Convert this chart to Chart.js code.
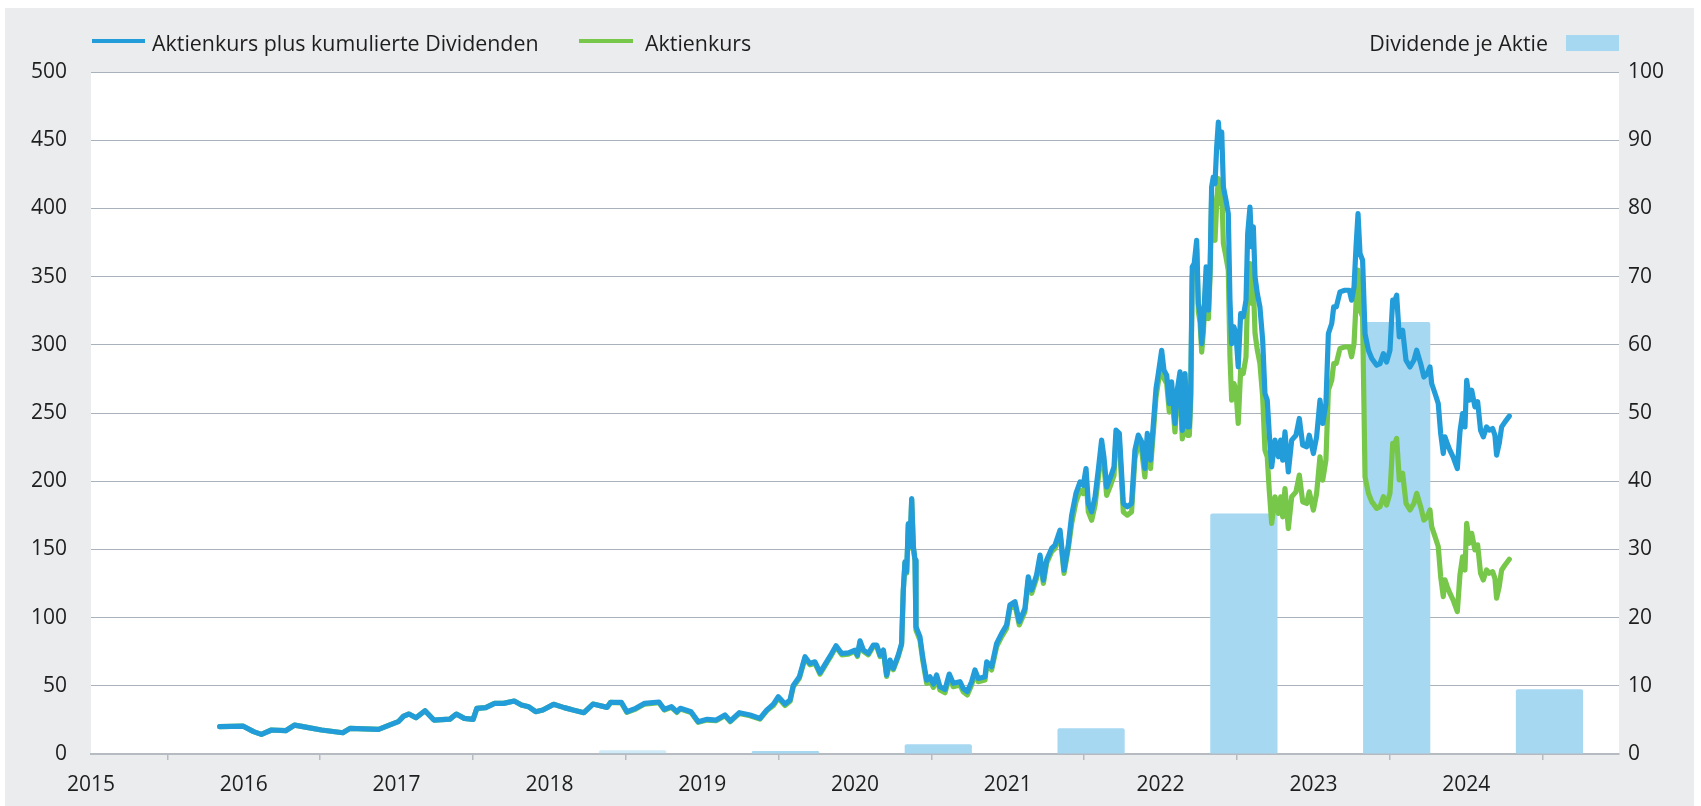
<!DOCTYPE html>
<html lang="de">
<head>
<meta charset="utf-8">
<title>Aktienkurs und Dividenden</title>
<script src="https://cdn.jsdelivr.net/npm/chart.js@4.4.1/dist/chart.umd.min.js"></script>
<style>
  html, body { margin: 0; padding: 0; background: #ffffff; width: 1701px; height: 806px; overflow: hidden; }
  #frame { position: absolute; left: 5px; top: 8px; width: 1689px; height: 798px; background: #ebecee; }
  #wrap { position: absolute; left: 0; top: 0; width: 1701px; height: 806px; }
  canvas { display: block; }
  .lg { position: absolute; font-family: "Open Sans", sans-serif; font-size: 21.4px; color: #1e1e1e; white-space: nowrap; line-height: 24px; }
  .sw { position: absolute; }
</style>
</head>
<body>
<div id="frame"></div>
<div id="wrap"><canvas id="c" width="1701" height="806"></canvas></div>
<div class="sw" style="left:92px; top:39px; width:53px; height:4px; background:#239dd9;"></div>
<div class="lg" style="left:152px; top:31px;">Aktienkurs plus kumulierte Dividenden</div>
<div class="sw" style="left:579px; top:39px; width:54px; height:4px; background:#77c74a;"></div>
<div class="lg" style="left:645px; top:31px;">Aktienkurs</div>
<div class="lg" style="right:153px; top:31px; text-align:right;">Dividende je Aktie</div>
<div class="sw" style="left:1566px; top:35px; width:53px; height:16px; background:#a6d8f2;"></div>
<script>
// ---- Data ----
const dates = [
  2015.842, 2015.920, 2015.994, 2016.064, 2016.115, 2016.181, 2016.274, 2016.333, 2016.414, 2016.508,
  2016.648, 2016.695, 2016.882, 2016.952, 2017.011, 2017.046, 2017.081, 2017.127, 2017.186, 2017.244,
  2017.349, 2017.391, 2017.443, 2017.501, 2017.525, 2017.583, 2017.641, 2017.700, 2017.770, 2017.817,
  2017.863, 2017.910, 2017.957, 2018.027, 2018.097, 2018.155, 2018.226, 2018.285, 2018.378, 2018.401,
  2018.471, 2018.507, 2018.565, 2018.623, 2018.717, 2018.752, 2018.799, 2018.834, 2018.857, 2018.927,
  2018.974, 2019.032, 2019.091, 2019.149, 2019.184, 2019.243, 2019.313, 2019.378, 2019.422,
  2019.466, 2019.498, 2019.542, 2019.575, 2019.596, 2019.636, 2019.673, 2019.705, 2019.738, 2019.771,
  2019.814, 2019.847, 2019.876, 2019.913, 2019.957, 2020.000, 2020.016, 2020.033, 2020.055, 2020.087,
  2020.120, 2020.142, 2020.164, 2020.186, 2020.207, 2020.229, 2020.251, 2020.283, 2020.305, 2020.316,
  2020.327, 2020.338, 2020.349, 2020.360, 2020.371, 2020.382, 2020.393,
  2020.399, 2020.425, 2020.443, 2020.469, 2020.491, 2020.513, 2020.534, 2020.556, 2020.589, 2020.617,
  2020.643, 2020.687, 2020.708, 2020.735, 2020.763, 2020.785, 2020.807, 2020.851, 2020.862, 2020.894,
  2020.927, 2020.960, 2020.992, 2021.014, 2021.047, 2021.075, 2021.112, 2021.134, 2021.156, 2021.188,
  2021.211, 2021.233, 2021.254, 2021.287, 2021.309, 2021.342, 2021.368, 2021.396,
  2021.418, 2021.446, 2021.473, 2021.494, 2021.512, 2021.527, 2021.549, 2021.571, 2021.592, 2021.614,
  2021.629, 2021.647, 2021.673, 2021.695, 2021.708, 2021.730, 2021.756, 2021.782, 2021.810, 2021.832,
  2021.854, 2021.876, 2021.897, 2021.913, 2021.934, 2021.952, 2021.970, 2021.985, 2022.007, 2022.022,
  2022.040, 2022.057, 2022.072, 2022.094, 2022.109, 2022.127, 2022.142, 2022.160, 2022.175, 2022.188,
  2022.197, 2022.207, 2022.220, 2022.236, 2022.247, 2022.258, 2022.269, 2022.280, 2022.298, 2022.313,
  2022.324, 2022.334,
  2022.345, 2022.356, 2022.367, 2022.378, 2022.389, 2022.400, 2022.411, 2022.428, 2022.443, 2022.454,
  2022.465, 2022.480, 2022.493, 2022.508, 2022.524, 2022.541, 2022.559, 2022.570, 2022.585, 2022.596,
  2022.607, 2022.618, 2022.633, 2022.650, 2022.668, 2022.683, 2022.698, 2022.711, 2022.727, 2022.749,
  2022.771, 2022.786, 2022.799, 2022.814, 2022.836, 2022.858, 2022.886, 2022.908, 2022.930, 2022.956,
  2022.973, 2023.000, 2023.021, 2023.043, 2023.061, 2023.082, 2023.098, 2023.120, 2023.133, 2023.150,
  2023.174, 2023.206, 2023.235, 2023.250, 2023.266, 2023.279, 2023.292, 2023.305, 2023.322,
  2023.338, 2023.360, 2023.382, 2023.414, 2023.436, 2023.458, 2023.479, 2023.501, 2023.519, 2023.534,
  2023.545, 2023.562, 2023.584, 2023.606, 2023.632, 2023.658, 2023.676, 2023.702, 2023.723, 2023.745,
  2023.763, 2023.774, 2023.796, 2023.817, 2023.833, 2023.850, 2023.861, 2023.876, 2023.893, 2023.914,
  2023.942, 2023.959, 2023.976, 2023.992, 2024.003, 2024.021, 2024.036, 2024.057, 2024.075, 2024.094,
  2024.112, 2024.133, 2024.151, 2024.173, 2024.188, 2024.199, 2024.216, 2024.232, 2024.254, 2024.282
];

const kursPlusDividenden = [
  20.0, 20.3, 20.5, 16.4, 14.4, 17.6, 17.1, 21.2, 19.5, 17.6,
  15.6, 18.8, 18.1, 21.2, 23.7, 27.8, 29.3, 26.6, 31.7, 24.9,
  25.6, 29.3, 26.1, 25.4, 33.5, 34.0, 37.1, 37.1, 38.8, 35.9,
  34.7, 31.0, 32.2, 36.4, 34.0, 32.2, 30.3, 36.6, 34.2, 37.9,
  37.9, 31.0, 33.5, 37.1, 38.1, 32.7, 34.7, 31.0, 33.5, 31.0,
  23.7, 25.4, 24.9, 28.6, 24.2, 30.3, 28.6, 26.1, 32.2,
  36.6, 42.0, 36.6, 39.6, 50.3, 56.6, 71.3, 66.4, 67.6, 59.6,
  67.6, 73.7, 79.4, 73.7, 74.2, 76.2, 72.5, 83.0, 76.2, 73.7,
  79.9, 79.9, 72.5, 76.2, 57.9, 68.9, 62.8, 72.5, 81.1, 120.2,
  140.9, 133.6, 169.0, 152.0, 187.3, 152.0, 142.2,
  93.3, 86.0, 71.3, 54.2, 56.6, 51.3, 57.9, 49.3, 47.3, 58.6,
  51.8, 53.0, 48.1, 45.7, 53.0, 61.6, 55.4, 56.6, 67.6, 64.0,
  81.1, 88.4, 94.5, 109.2, 111.6, 97.0, 106.7, 129.9, 120.2, 131.1,
  145.8, 127.5, 142.2, 150.7, 153.2, 164.1, 134.8, 153.2,
  175.1, 191.0, 199.5, 197.1, 209.3, 183.7, 177.6, 188.6, 208.1, 230.1,
  217.9, 195.8, 203.2, 210.5, 237.4, 235.0, 183.7, 181.3, 183.7, 222.8,
  233.8, 228.9, 209.3, 235.0, 215.5, 241.1, 267.9, 278.9, 296.0, 281.4,
  277.7, 256.9, 272.8, 242.3, 266.7, 280.1, 237.3, 278.9, 239.8, 239.8,
  264.3, 357.1, 359.5, 376.6, 330.3, 322.9, 300.9, 315.6, 357.1, 325.4,
  357.1, 415.7,
  423.0, 418.1, 445.0, 463.3, 445.0, 456.0, 415.7, 405.9, 396.2, 332.7,
  300.9, 313.1, 308.2, 283.8, 322.9, 320.5, 332.7, 381.5, 401.0, 371.8,
  386.4, 349.8, 337.6, 327.8, 303.4, 264.3, 259.4, 234.9, 210.5, 230.1,
  217.9, 230.1, 215.4, 236.1, 206.8, 230.1, 233.7, 246.0, 226.4, 225.2,
  233.7, 220.3, 232.5, 259.4, 242.3, 256.9, 308.2, 315.6, 327.8, 327.8,
  338.8, 340.0, 340.0, 332.7, 342.5, 371.8, 396.2, 366.9, 362.0,
  308.0, 296.0, 289.9, 285.0, 286.2, 293.5, 287.4, 296.0, 332.7, 332.7,
  336.3, 305.8, 310.7, 288.7, 283.8, 288.7, 296.0, 286.2, 276.4, 278.9,
  283.8, 271.6, 264.3, 257.0, 235.0, 220.3, 232.5, 227.6, 222.8, 217.9,
  209.3, 236.1, 249.5, 239.8, 274.0, 259.4, 266.7, 254.5, 258.2, 237.4,
  232.5, 239.8, 237.4, 238.6, 233.7, 219.1, 227.6, 239.8, 243.5, 247.7
];

const aktienkurs = [
  20.0, 20.3, 20.5, 16.4, 14.4, 17.6, 17.1, 21.2, 19.5, 17.6,
  15.6, 18.8, 18.1, 21.2, 23.7, 27.8, 29.3, 26.6, 31.7, 24.9,
  25.6, 29.3, 26.1, 25.4, 33.5, 34.0, 37.1, 37.1, 38.8, 35.9,
  34.7, 31.0, 32.2, 36.4, 34.0, 32.2, 30.3, 36.6, 34.2, 37.9,
  37.4, 30.5, 33.0, 36.6, 37.6, 32.2, 34.2, 30.5, 33.0, 30.5,
  23.2, 24.9, 24.4, 28.1, 23.7, 29.8, 28.1, 25.6, 31.7,
  35.6, 41.0, 35.6, 38.6, 49.3, 55.6, 70.3, 65.4, 66.6, 58.6,
  66.6, 72.7, 78.4, 72.7, 73.2, 75.2, 71.5, 82.0, 75.2, 72.7,
  78.9, 78.9, 71.5, 75.2, 56.9, 67.9, 61.8, 71.5, 80.1, 119.2,
  139.9, 132.6, 168.0, 151.0, 186.3, 151.0, 141.2,
  90.9, 83.6, 68.9, 51.8, 54.2, 48.9, 55.5, 46.9, 44.9, 56.2,
  49.4, 50.6, 45.7, 43.3, 50.6, 59.2, 53.0, 54.2, 65.2, 61.6,
  78.7, 86.0, 92.1, 106.8, 109.2, 94.6, 104.3, 127.5, 117.8, 128.7,
  143.4, 125.1, 139.8, 148.3, 150.8, 161.7, 132.4, 150.8,
  168.9, 184.8, 193.3, 190.9, 203.1, 177.5, 171.4, 182.4, 201.9, 223.9,
  211.7, 189.6, 197.0, 204.3, 231.2, 228.8, 177.5, 175.1, 177.5, 216.6,
  227.6, 222.7, 203.1, 228.8, 209.3, 234.9, 261.7, 272.7, 289.8, 275.2,
  271.5, 250.7, 266.6, 236.1, 260.5, 273.9, 231.1, 272.7, 233.6, 233.6,
  258.1, 350.9, 353.3, 370.4, 324.1, 316.7, 294.7, 309.4, 350.9, 319.2,
  350.9, 409.5,
  381.5, 376.6, 403.5, 421.8, 403.5, 414.5, 374.2, 364.4, 354.7, 291.2,
  259.4, 271.6, 266.7, 242.3, 281.4, 279.0, 291.2, 340.0, 359.5, 330.3,
  344.9, 308.3, 296.1, 286.3, 261.9, 222.8, 217.9, 193.4, 169.0, 188.6,
  176.4, 188.6, 173.9, 194.6, 165.3, 188.6, 192.2, 204.5, 184.9, 183.7,
  192.2, 178.8, 191.0, 217.9, 200.8, 215.4, 266.7, 274.1, 286.3, 286.3,
  297.3, 298.5, 298.5, 291.2, 301.0, 330.3, 354.7, 325.4, 320.5,
  203.1, 191.1, 185.0, 180.1, 181.3, 188.6, 182.5, 191.1, 227.8, 227.8,
  231.4, 200.9, 205.8, 183.8, 178.9, 183.8, 191.1, 181.3, 171.5, 174.0,
  178.9, 166.7, 159.4, 152.1, 130.1, 115.4, 127.6, 122.7, 117.9, 113.0,
  104.4, 131.2, 144.6, 134.9, 169.1, 154.5, 161.8, 149.6, 153.3, 132.5,
  127.6, 134.9, 132.5, 133.7, 128.8, 114.2, 122.7, 134.9, 138.6, 142.8
];

const dividendenJahre = [2018, 2019, 2020, 2021, 2022, 2023, 2024];
const dividendeJeAktie = [0.55, 0.45, 1.42, 3.77, 35.27, 63.35, 9.48];

const xTickLabels = ['2015', '2016', '2017', '2018', '2019', '2020', '2021', '2022', '2023', '2024'];
const leftTickLabels = ['0', '50', '100', '150', '200', '250', '300', '350', '400', '450', '500'];
const rightTickLabels = ['0', '10', '20', '30', '40', '50', '60', '70', '80', '90', '100'];

// ---- Styling / layout ----
const BLUE = '#239dd9';
const GREEN = '#77c74a';
const BAR = '#a6d8f2';
const TEXT = '#1e1e1e';
const FONT = { family: '"Open Sans", sans-serif', size: 21 };
const BAR_X_OFFSET = 0.545; // bars sit in the middle of each dividend year
const LINE_W = 5.2;

const plotBg = {
  id: 'plotBg',
  beforeDraw(chart) {
    const { ctx, chartArea: a } = chart;
    ctx.save();
    ctx.fillStyle = '#ffffff';
    ctx.fillRect(a.left, a.top, a.right - a.left, a.bottom - a.top);
    ctx.restore();
  }
};

const ctx = document.getElementById('c').getContext('2d');
new Chart(ctx, {
  type: 'line',
  data: {
    datasets: [
      {
        label: 'Aktienkurs plus kumulierte Dividenden',
        data: dates.map((d, i) => ({ x: d, y: kursPlusDividenden[i] })),
        yAxisID: 'y',
        borderColor: BLUE,
        borderWidth: LINE_W,
        pointRadius: 0,
        tension: 0,
        borderJoinStyle: 'round',
        borderCapStyle: 'round',
        order: 0
      },
      {
        label: 'Aktienkurs',
        data: dates.map((d, i) => ({ x: d, y: aktienkurs[i] })),
        yAxisID: 'y',
        borderColor: GREEN,
        borderWidth: LINE_W,
        pointRadius: 0,
        tension: 0,
        borderJoinStyle: 'round',
        borderCapStyle: 'round',
        order: 1
      },
      {
        type: 'bar',
        label: 'Dividende je Aktie',
        data: dividendenJahre.map((y, i) => ({ x: y + BAR_X_OFFSET, y: dividendeJeAktie[i] })),
        yAxisID: 'y2',
        backgroundColor: ['rgba(166,216,242,0.5)', BAR, BAR, BAR, BAR, BAR, BAR],
        borderWidth: 0,
        borderRadius: { topLeft: 2, topRight: 2 },
        borderSkipped: 'bottom',
        barPercentage: 0.44,
        categoryPercentage: 1,
        order: 2
      }
    ]
  },
  options: {
    responsive: false,
    animation: false,
    devicePixelRatio: 1,
    layout: { padding: { top: 72, left: 0, right: 0, bottom: 0 } },
    plugins: {
      legend: { display: false },
      tooltip: { enabled: false }
    },
    scales: {
      x: {
        type: 'linear',
        min: 2015,
        max: 2025,
        offset: false,
        grid: { drawOnChartArea: false, drawTicks: true, tickLength: 6, color: '#b5bbc1', lineWidth: 1.5 },
        border: { display: true, color: '#b5bbc1', width: 2 },
        ticks: {
          stepSize: 1,
          autoSkip: false,
          maxRotation: 0,
          padding: 12,
          color: TEXT,
          font: FONT,
          callback: (v) => {
            const i = Math.round(v) - 2015;
            return i >= 0 && i < xTickLabels.length ? xTickLabels[i] : '';
          }
        },
        afterFit: (s) => { s.height = 52; }
      },
      y: {
        type: 'linear',
        position: 'left',
        min: 0,
        max: 500,
        grid: { color: '#a9b2bb', lineWidth: 1, drawTicks: false },
        border: { display: false },
        ticks: {
          stepSize: 50,
          padding: 24,
          color: TEXT,
          font: FONT,
          callback: (v) => leftTickLabels[Math.round(v / 50)]
        },
        afterFit: (s) => { s.width = 91; }
      },
      y2: {
        type: 'linear',
        position: 'right',
        min: 0,
        max: 100,
        grid: { drawOnChartArea: false, drawTicks: false },
        border: { display: false },
        ticks: {
          stepSize: 10,
          padding: 9,
          color: TEXT,
          font: FONT,
          callback: (v) => rightTickLabels[Math.round(v / 10)]
        },
        afterFit: (s) => { s.width = 82; }
      }
    }
  },
  plugins: [plotBg]
});
</script>
</body>
</html>
